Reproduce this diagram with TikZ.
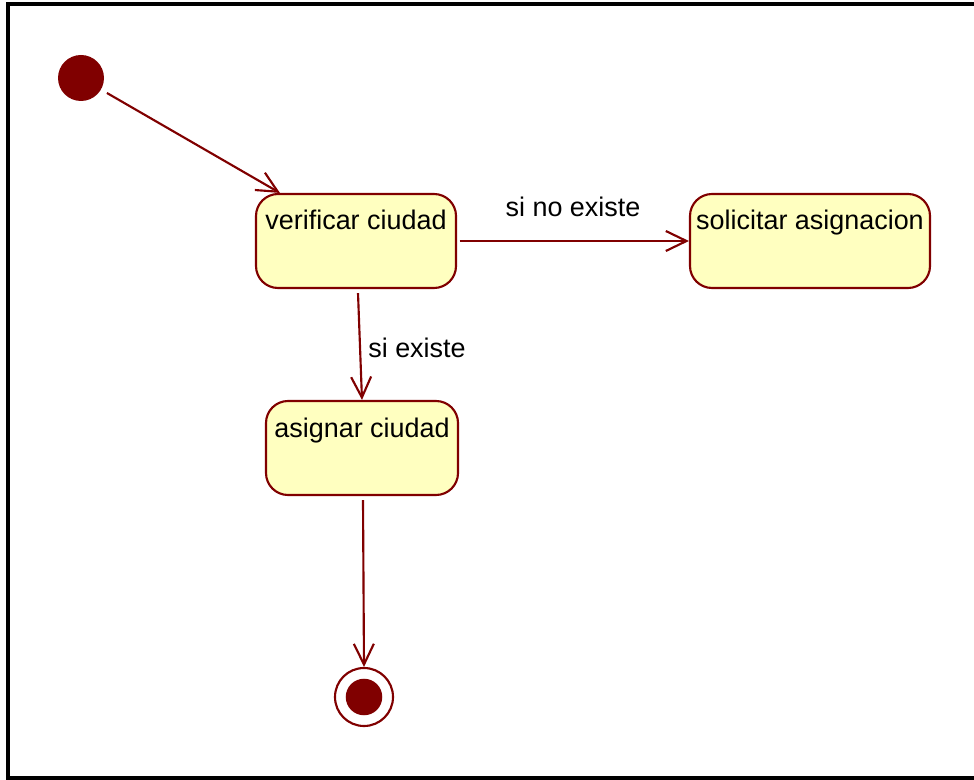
\documentclass[tikz,border=0pt]{standalone}
\usepackage{fontspec}
\setmainfont{Liberation Sans}
\usetikzlibrary{arrows.meta}
\definecolor{umlred}{HTML}{800000}
\definecolor{umlfill}{HTML}{FFFFC0}

\begin{document}
\begin{tikzpicture}[x = 0.75pt, y = -0.75pt,
        state/.style = {draw = umlred, fill = umlfill, line width = 1.6pt, rounded corners = 16.5pt,
            inner xsep = 0pt, inner ysep = 0pt, text height = 27pt, text depth = 43.5pt,
            font = \fontsize{20.2}{24}\selectfont},
        trans/.style = {draw = umlred, line width = 1.6pt, -{Straight Barb[length = 15.5pt, width = 15pt]}},
        guard/.style = {anchor = base, font = \fontsize{20.2}{24}\selectfont}]
                \useasboundingbox (0,0) rectangle (974,780);
                \path[draw, line width = 3pt] (990,4.5) -- (8,4.5) -- (8,778) -- (990,778);
                \node[circle, fill = umlred, minimum size = 34.5pt, inner sep = 0pt] (start) at (81,78) {};
                \node[state, minimum width = 150pt] (verif) at (356,241) {verificar ciudad};
                \node[state, minimum width = 180pt] (solic) at (810,241) {solicitar asignacion};
                \node[state, minimum width = 144pt] (asign) at (362,448) {asignar ciudad};
                \node[circle, draw = umlred, line width = 1.6pt, minimum size = 43.5pt, inner sep = 0pt,
                    path picture = {\fill[umlred] (path picture bounding box.center) circle (13.7pt);}] (final) at (364,697) {};
                \path[trans, shorten <= 5pt] (start) to ([xshift = 18.75pt]verif.north west);
                \path[trans, shorten <= 2pt] (verif.east) to (solic.west);
                \path[trans] ([xshift = 1.5pt, yshift = -3pt]verif.south) to (asign.north);
                \path[trans] ([xshift = 0.75pt, yshift = -3pt]asign.south) to (final.north);
                \node[guard] (nolbl) at (573,217) {si no existe};
                \node[guard] (silbl) at (417,358) {si existe};
            \end{tikzpicture}
\end{document}
